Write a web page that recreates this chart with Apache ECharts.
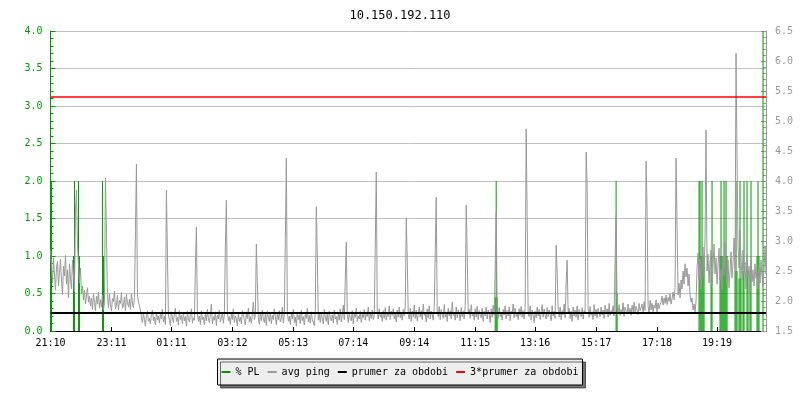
<!DOCTYPE html>
<html>
<head>
<meta charset="utf-8">
<script src="https://cdn.jsdelivr.net/npm/echarts@6/dist/echarts.min.js"></script>
<style>html,body{margin:0;padding:0;background:#fff;}#c{width:800px;height:400px;}</style>
</head>
<body>
<div id="c"></div>
<script>
// ---- data ----
const chartTitle = '10.150.192.110';
const xTickLabels = ['21:10','23:11','01:11','03:12','05:13','07:14','09:14','11:15','13:16','15:17','17:18','19:19'];
const samplesPerTick = 60.67;

// avg ping (right axis), one sample per pixel column
const avgPing = [
  // 0-39
  2.85,2.60,2.30,2.72,2.45,2.18,2.55,2.66,2.25,2.48,2.70,2.35,2.10,2.58,2.42,2.76,2.28,2.52,2.05,2.62,
  2.38,2.20,2.68,2.44,2.15,3.48,3.85,2.95,2.62,2.30,2.55,2.12,2.25,2.02,2.18,1.95,2.10,2.22,1.98,2.08,
  // 40-90
  1.92,2.05,1.86,2.12,1.98,1.84,2.08,1.95,2.15,1.88,2.02,1.90,2.10,1.85,1.97,4.05,3.15,2.06,1.89,2.12,
  1.94,1.83,2.04,1.99,2.16,1.87,1.93,2.09,1.85,2.01,1.96,2.14,1.88,1.92,2.07,1.84,2.11,1.97,1.90,2.03,
  1.86,2.13,1.95,1.89,2.06,3.17,4.28,2.10,1.98,1.92,1.85,
  // 91-350
  1.72,1.64,1.80,1.69,1.58,1.76,1.83,1.66,1.71,1.62,1.78,1.85,1.67,1.73,1.60,1.81,1.68,1.75,1.63,1.79,
  1.70,1.86,1.65,1.74,1.61,3.85,2.80,1.77,1.68,1.59,1.82,1.72,1.64,1.79,1.88,1.66,1.73,1.60,1.84,1.69,
  1.76,1.62,1.81,1.67,1.74,1.58,1.83,1.70,1.65,1.78,1.87,1.63,1.72,1.68,2.57,3.23,1.80,1.66,1.75,1.61,
  1.84,1.69,1.73,1.60,1.79,1.67,1.86,1.71,1.64,1.77,1.95,1.62,1.74,1.68,1.82,1.59,1.76,1.70,1.85,1.65,
  1.72,1.80,1.63,1.78,2.92,3.68,1.83,1.67,1.74,1.61,1.79,1.69,1.87,1.64,1.75,1.70,1.58,1.81,1.66,1.73,
  1.62,1.84,1.77,1.68,1.60,1.82,1.71,1.88,1.65,1.74,1.63,1.79,1.98,1.69,1.76,2.95,2.32,1.72,1.61,1.80,
  1.67,1.85,1.70,1.64,1.78,1.59,1.83,1.73,1.66,1.81,1.62,1.76,1.69,1.87,1.74,1.60,1.79,1.68,1.84,1.65,
  1.71,1.90,1.63,1.77,3.02,4.38,1.82,1.66,1.75,1.61,1.80,1.70,1.86,1.64,1.73,1.58,1.81,1.69,1.77,1.62,
  1.85,1.67,1.74,1.60,1.79,1.71,1.88,1.65,1.76,1.63,1.82,1.69,1.72,1.59,1.84,3.57,2.75,1.68,1.78,1.64,
  1.81,1.70,1.62,1.86,1.73,1.66,1.79,1.60,1.83,1.72,1.67,1.77,1.63,1.85,1.70,1.74,1.61,1.80,1.68,1.87,
  1.65,1.76,1.93,1.69,2.37,2.98,1.78,1.64,1.82,1.71,1.67,1.84,1.62,1.79,1.73,1.88,1.66,1.75,1.70,1.83,
  1.64,1.78,1.72,1.86,1.68,1.81,1.74,1.90,1.67,1.79,1.71,1.85,1.69,1.76,2.95,4.15,1.82,1.70,1.87,1.73,
  1.78,1.66,1.84,1.71,1.89,1.68,1.80,1.74,1.92,1.69,1.83,1.76,1.87,1.70,1.79,1.65,1.85,1.73,1.90,1.72,
  // 351-590
  1.80,1.68,1.86,1.75,1.91,3.38,2.68,1.77,1.70,1.88,1.66,1.83,1.74,1.93,1.71,1.85,1.67,1.79,1.90,1.73,
  1.84,1.69,1.95,1.76,1.81,1.65,1.87,1.72,1.92,1.70,1.83,1.78,1.68,1.89,2.78,3.73,1.80,1.74,1.91,1.69,
  1.86,1.77,1.71,1.94,1.73,1.82,1.66,1.88,1.75,1.84,1.70,1.98,1.76,1.81,1.68,1.90,1.72,1.85,1.79,1.67,
  1.89,1.74,1.83,1.70,1.92,3.60,2.77,1.78,1.86,1.71,1.94,1.75,1.80,1.68,1.87,1.73,1.91,1.69,1.84,1.77,
  1.72,1.88,1.66,1.83,1.75,1.90,1.70,1.85,1.78,1.64,1.87,1.73,1.93,1.76,2.57,3.48,1.82,1.71,1.89,1.74,
  1.80,1.68,1.86,1.77,1.92,1.70,1.84,1.75,1.90,1.67,1.83,1.79,1.95,1.72,1.88,1.74,1.81,1.69,1.87,1.76,
  1.91,1.73,1.84,1.70,1.89,4.87,3.38,1.80,1.74,1.92,1.68,1.85,1.77,1.64,1.83,1.72,1.90,1.75,1.86,1.69,
  1.81,1.94,1.73,1.87,1.76,1.70,1.89,1.74,1.85,1.78,1.67,1.92,1.75,1.83,1.71,2.93,2.50,1.86,1.73,1.90,
  1.69,1.84,1.77,1.95,1.72,2.30,2.68,1.79,1.88,1.71,1.83,1.66,1.90,1.75,1.85,1.73,1.92,1.68,1.86,1.78,
  1.74,1.89,1.70,1.84,1.79,4.48,3.93,1.87,1.73,1.91,1.76,1.82,1.69,1.94,1.75,1.86,1.72,1.88,1.80,1.74,
  1.90,1.77,1.85,1.71,1.93,1.78,1.87,1.73,1.96,1.76,1.84,1.80,1.92,1.75,2.68,3.43,1.88,1.79,1.94,1.76,
  1.86,1.81,1.97,1.74,1.90,1.83,1.78,1.95,1.80,1.88,1.76,1.93,1.82,1.98,1.79,1.91,1.85,1.77,1.96,1.84,
  // 591-646
  1.86,1.95,1.80,1.99,1.84,4.33,3.52,1.92,1.79,2.01,1.85,1.96,1.82,1.93,1.88,2.02,1.81,1.97,1.87,1.94,
  1.98,2.08,1.93,2.05,1.96,2.10,1.94,2.06,1.99,2.12,1.95,2.04,2.15,2.02,2.22,4.38,3.25,2.10,2.30,2.05,
  2.35,2.20,2.50,2.28,2.62,2.40,2.55,2.25,2.45,2.10,1.98,2.05,1.85,1.95,1.82,2.00,
  // 647-716
  2.55,2.80,2.35,2.70,2.20,2.62,2.90,2.40,3.07,4.85,2.50,2.78,2.30,2.65,2.85,2.25,2.58,2.95,2.45,2.72,
  2.28,2.60,2.88,2.35,2.52,2.18,2.75,2.42,2.98,2.55,2.30,2.68,2.22,2.50,2.82,2.38,2.62,3.05,2.48,6.13,
  4.40,2.90,2.55,3.18,2.70,2.35,2.85,2.45,2.65,2.20,2.78,2.40,2.58,2.15,2.70,2.32,2.52,2.25,2.62,2.38,
  2.48,2.20,2.55,2.30,2.68,2.40,2.25,2.50,2.92,2.45
];

// packet loss (left axis): [sample index, % PL]
const packetLoss = [
  [0, 2.0], [1, 2.0], [23, 1.0], [24, 2.0], [28, 2.0], [29, 1.0], [52, 2.0], [53, 1.0],
  [445, 0.45], [446, 2.0], [447, 0.45], [566, 2.0], [567, 0.5],
  [649, 2.0], [650, 2.0], [651, 1.0], [652, 2.0], [653, 1.0], [654, 1.0],
  [661, 1.0], [662, 2.0],
  [670, 1.0], [671, 2.0], [672, 1.0], [673, 1.0], [674, 2.0], [675, 1.0], [676, 2.0], [677, 1.0],
  [685, 0.8], [686, 2.0], [687, 0.8], [689, 0.7], [690, 2.0], [691, 0.7],
  [693, 0.8], [694, 2.0], [697, 2.0], [698, 0.8], [700, 0.8], [701, 2.0],
  [707, 1.0], [708, 2.0], [709, 1.0], [713, 4.0]
];

const periodAverage = 1.8;   // prumer za obdobi (right axis)

// ---- build ----
const categories = avgPing.map((_, i) => i);
const plData = avgPing.map(() => null);
packetLoss.forEach(([i, v]) => { plData[i] = v; });
const tickMap = {};
xTickLabels.forEach((lab, k) => { tickMap[Math.round(k * samplesPerTick)] = lab; });

const FONT = 'DejaVu Sans Mono';
const GREEN = '#009900';
const GRAY = '#999999';
const RED = '#ff0000';

const chart = echarts.init(document.getElementById('c'), null, {renderer: 'canvas'});
chart.setOption({
  animation: false,
  title: {
    text: chartTitle, left: 'center', top: 5,
    textStyle: {fontFamily: FONT, fontSize: 12, fontWeight: 'normal', color: '#000'}
  },
  legend: {
    bottom: 15, left: 'center',
    icon: 'rect', itemWidth: 9, itemHeight: 2, itemGap: 8,
    padding: [8, 4],
    backgroundColor: '#eeeeee', borderColor: '#000', borderWidth: 1,
    shadowColor: 'rgba(0,0,0,0.55)', shadowOffsetX: 3, shadowOffsetY: 3, shadowBlur: 0,
    textStyle: {fontFamily: FONT, fontSize: 10, color: '#000'},
    data: ['% PL', 'avg ping', 'prumer za obdobi', '3*prumer za obdobi']
  },
  grid: {left: 50.5, right: 34, top: 31, bottom: 69},
  xAxis: {
    type: 'category', data: categories, boundaryGap: false,
    axisLine: {lineStyle: {color: '#000', width: 1}},
    axisTick: {show: true, inside: true, length: 4, interval: (i) => tickMap[i] !== undefined, lineStyle: {color: '#000'}},
    axisLabel: {interval: (i) => tickMap[i] !== undefined, formatter: (v, i) => tickMap[i] || '',
      fontFamily: FONT, fontSize: 10, color: '#000', margin: 7},
    splitLine: {show: false}
  },
  yAxis: [
    {
      type: 'value', min: 0, max: 4, interval: 0.5, position: 'left',
      axisLine: {show: true, lineStyle: {color: GREEN, width: 1}},
      axisTick: {show: true, inside: true, length: 5, lineStyle: {color: GREEN}},
      minorTick: {show: true, splitNumber: 5, length: 3, lineStyle: {color: GREEN}},
      axisLabel: {formatter: (v) => v.toFixed(1), fontFamily: FONT, fontSize: 10, color: GREEN, margin: 8},
      splitLine: {show: true, lineStyle: {color: '#c0c0c0', width: 1}}
    },
    {
      type: 'value', min: 1.5, max: 6.5, interval: 0.5, position: 'right',
      axisLine: {show: true, lineStyle: {color: GRAY, width: 1}},
      axisTick: {show: true, inside: true, length: 5, lineStyle: {color: GRAY}},
      minorTick: {show: true, splitNumber: 5, length: 3, lineStyle: {color: GRAY}},
      axisLabel: {formatter: (v) => v.toFixed(1), fontFamily: FONT, fontSize: 10, color: GRAY, margin: 9},
      splitLine: {show: false}
    }
  ],
  series: [
    {
      name: '% PL', type: 'bar', yAxisIndex: 0, data: plData,
      barWidth: 1, color: GREEN, itemStyle: {color: GREEN}, silent: true
    },
    {
      name: 'avg ping', type: 'line', yAxisIndex: 1, data: avgPing,
      symbol: 'none', color: GRAY, lineStyle: {color: GRAY, width: 1}, silent: true
    },
    {
      name: 'prumer za obdobi', type: 'line', yAxisIndex: 1, data: [],
      color: '#000', itemStyle: {color: '#000'}, symbol: 'none',
      markLine: {silent: true, symbol: 'none', label: {show: false},
        itemStyle: {color: '#000'},
        lineStyle: {color: '#000', width: 2, type: 'solid'},
        data: [{yAxis: periodAverage, lineStyle: {color: '#000', width: 2, type: 'solid'}}]}
    },
    {
      name: '3*prumer za obdobi', type: 'line', yAxisIndex: 1, data: [],
      color: RED, itemStyle: {color: RED}, symbol: 'none',
      markLine: {silent: true, symbol: 'none', label: {show: false},
        itemStyle: {color: RED},
        lineStyle: {color: RED, width: 1.5, type: 'solid'},
        data: [{yAxis: 3 * periodAverage, lineStyle: {color: RED, width: 1.5, type: 'solid'}}]}
    }
  ]
});
</script>
</body>
</html>
